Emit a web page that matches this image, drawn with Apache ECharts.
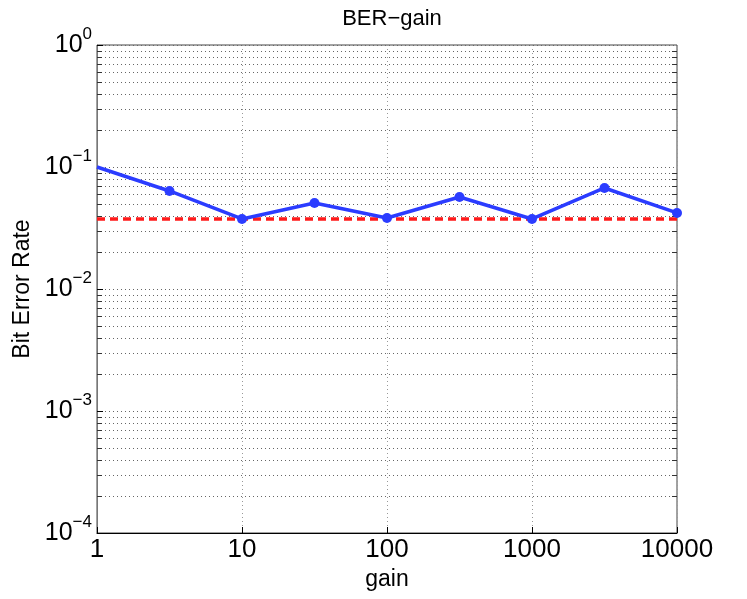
<!DOCTYPE html>
<html>
<head>
<meta charset="utf-8">
<script src="https://cdn.jsdelivr.net/npm/echarts@6/dist/echarts.min.js"></script>
<style>
html, body { margin: 0; padding: 0; background: #fff; }
#main { width: 747px; height: 599px; }
</style>
</head>
<body>
<div id="main"></div>
<script>
var gains = [1, 3.162, 10, 31.62, 100, 316.2, 1000, 3162, 10000];
var ber = [0.1, 0.0636, 0.0375, 0.0507, 0.0382, 0.0568, 0.0375, 0.0673, 0.042];
var berFloor = 0.0375;
var xTicks = [1, 10, 100, 1000, 10000];
var yDecades = [1e-4, 1e-3, 1e-2, 1e-1, 1];

var font = "Liberation Sans, Arial, sans-serif";

function buildBerData() {
    var data = new Array();
    for (var i = 0; i < gains.length; i++) {
        var item = {value: [gains[i], ber[i]]};
        if (i == 0) {
            item.symbol = "none";
        }
        data.push(item);
    }
    return data;
}

function buildMinorValues() {
    // 2..9 x each decade, like matlab "grid minor"
    var vals = new Array();
    for (var i = 0; i < yDecades.length - 1; i++) {
        for (var k = 2; k <= 9; k++) {
            vals.push([yDecades[i] * k]);
        }
    }
    return vals;
}

function renderMinorLine(params, api) {
    var v = api.value(0);
    var p0 = api.coord([xTicks[0], v]);
    var p1 = api.coord([xTicks[xTicks.length - 1], v]);
    var y = Math.round(p0[1]) + 0.5;
    return {
        type: "group",
        children: [
            {
                type: "line",
                shape: {x1: p0[0], y1: y, x2: p1[0], y2: y},
                style: {stroke: "#666", lineWidth: 1, lineDash: [1, 3]}
            },
            {
                type: "line",
                shape: {x1: p0[0], y1: y, x2: p0[0] + 5, y2: y},
                style: {stroke: "#333", lineWidth: 1}
            },
            {
                type: "line",
                shape: {x1: p1[0] - 5, y1: y, x2: p1[0], y2: y},
                style: {stroke: "#333", lineWidth: 1}
            }
        ]
    };
}

function expLabel(value) {
    var e = Math.round(Math.log(value) / Math.LN10);
    var s = e < 0 ? "\u2212" + (-e) : "" + e;
    return "{b|10}{s|" + s + "}";
}

var chart = echarts.init(document.getElementById("main"));
var option = {
    backgroundColor: "#fff",
    animation: false,
    title: {
        text: "BER\u2212gain",
        left: 387,
        textAlign: "center",
        top: 3,
        textStyle: {fontFamily: font, fontSize: 22, fontWeight: "normal", color: "#000"}
    },
    grid: {
        left: 97, right: 70, top: 45, bottom: 66,
        outerBoundsMode: "none",
        containLabel: false,
        show: true, borderColor: "#444", borderWidth: 1, backgroundColor: "#fff"
    },
    xAxis: {
        type: "log",
        logBase: 10,
        min: 1,
        max: 10000,
        name: "gain",
        nameLocation: "middle",
        nameGap: 34,
        nameTextStyle: {fontFamily: font, fontSize: 23, color: "#000"},
        axisLine: {lineStyle: {color: "#000", width: 1}},
        axisTick: {inside: true, length: 6, lineStyle: {color: "#000"}},
        axisLabel: {
            fontFamily: font, fontSize: 26, color: "#000", margin: 4,
            formatter: function (v) { return "" + Math.round(v); }
        },
        splitLine: {show: true, lineStyle: {type: [1, 3], color: "#999", width: 1}},
        minorTick: {show: false}
    },
    yAxis: {
        type: "log",
        logBase: 10,
        min: 1e-4,
        max: 1,
        splitNumber: 4,
        name: "Bit Error Rate",
        nameLocation: "middle",
        nameRotate: 90,
        nameGap: 62,
        nameTextStyle: {fontFamily: font, fontSize: 23, color: "#000"},
        axisLine: {lineStyle: {color: "#777", width: 1}},
        axisTick: {inside: true, length: 6, lineStyle: {color: "#000"}},
        axisLabel: {
            fontFamily: font, color: "#000", margin: 5,
            formatter: expLabel,
            rich: {
                b: {fontFamily: font, fontSize: 25, color: "#000", verticalAlign: "bottom", lineHeight: 26},
                s: {fontFamily: font, fontSize: 17, color: "#000", verticalAlign: "bottom", lineHeight: 17, padding: [0, 0, 15, 0]}
            }
        },
        splitLine: {show: true, lineStyle: {type: [1, 3], color: "#666", width: 1}}
    },
    series: [
        {
            name: "minor grid",
            type: "custom",
            z: 1,
            silent: true,
            clip: false,
            renderItem: renderMinorLine,
            encode: {y: 0},
            data: buildMinorValues()
        },
        {
            name: "floor",
            type: "line",
            z: 3,
            symbol: "none",
            data: [[xTicks[0], berFloor], [xTicks[xTicks.length - 1], berFloor]],
            lineStyle: {color: "#ff1a1a", width: 3.5, type: [8, 5]}
        },
        {
            name: "BER",
            type: "line",
            z: 4,
            symbol: "circle",
            symbolSize: 10,
            data: buildBerData(),
            lineStyle: {color: "#2b3cff", width: 3.5},
            itemStyle: {color: "#2b3cff"}
        }
    ]
};
chart.setOption(option);
</script>
</body>
</html>
